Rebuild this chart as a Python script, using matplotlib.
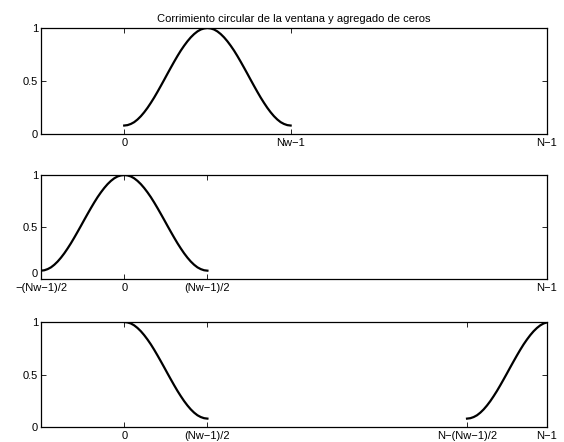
import numpy as np
import matplotlib
matplotlib.use('Agg')
import matplotlib.pyplot as plt

plt.rcParams['font.family'] = ['Liberation Sans', 'DejaVu Sans']

# window length and total length (zero padded)
Nw = 51
N = 128

# half of the window (n = 0 .. (Nw-1)/2)
half_win = [0.080, 0.084, 0.095, 0.112, 0.137, 0.168, 0.205, 0.247, 0.294,
            0.344, 0.398, 0.454, 0.511, 0.569, 0.626, 0.682, 0.736, 0.787,
            0.833, 0.875, 0.912, 0.943, 0.968, 0.986, 0.996, 1.000]
win = np.array(half_win + half_win[-2::-1])
M = (Nw - 1) // 2

title = 'Corrimiento circular de la ventana y agregado de ceros'

ticks1 = [0, Nw - 1, N - 1]
labels1 = ['0', 'Nw\u22121', 'N\u22121']
ticks2 = [-M, 0, M, N - 1]
labels2 = ['\u2212(Nw\u22121)/2', '0', '(Nw\u22121)/2', 'N\u22121']
ticks3 = [0, M, N - M, N - 1]
labels3 = ['0', '(Nw\u22121)/2', 'N\u2212(Nw\u22121)/2', 'N\u22121']

fig = plt.figure(figsize=(5.64, 4.42), dpi=100, facecolor='w')
pos = [[0.0727, 0.6968, 0.897, 0.2398],
       [0.0727, 0.3688, 0.897, 0.2353],
       [0.0727, 0.0339, 0.897, 0.2376]]
axs = [fig.add_axes(p) for p in pos]

lw = 1.6
axs[0].plot(np.arange(0, Nw), win, 'k', lw=lw)
axs[1].plot(np.arange(-M, M + 1), win, 'k', lw=lw)
axs[2].plot(np.arange(0, M + 1), win[M:], 'k', lw=lw)
axs[2].plot(np.arange(N - M, N), win[:M], 'k', lw=lw)

for ax, tk, lb in zip(axs, [ticks1, ticks2, ticks3], [labels1, labels2, labels3]):
    ax.set_xlim(-M, N - 1)
    ax.set_ylim(0, 1)
    ax.set_xticks(tk)
    ax.set_xticklabels(lb)
    ax.set_yticks([0, 0.5, 1])
    ax.set_yticklabels(['0', '0.5', '1'])
    ax.tick_params(direction='in', top=True, right=True, length=3.5, width=0.6,
                   labelsize=8)
    ax.tick_params(axis='x', pad=3)
    ax.tick_params(axis='y', pad=2)
    for s in ax.spines.values():
        s.set_linewidth(0.9)

# the "0" of the middle plot sits above the -(Nw-1)/2 label, as in matlab
axs[1].get_yticklabels()[0].set_verticalalignment('bottom')

axs[0].set_title(title, fontsize=8, pad=4)

fig.savefig('out.png', dpi=100)
